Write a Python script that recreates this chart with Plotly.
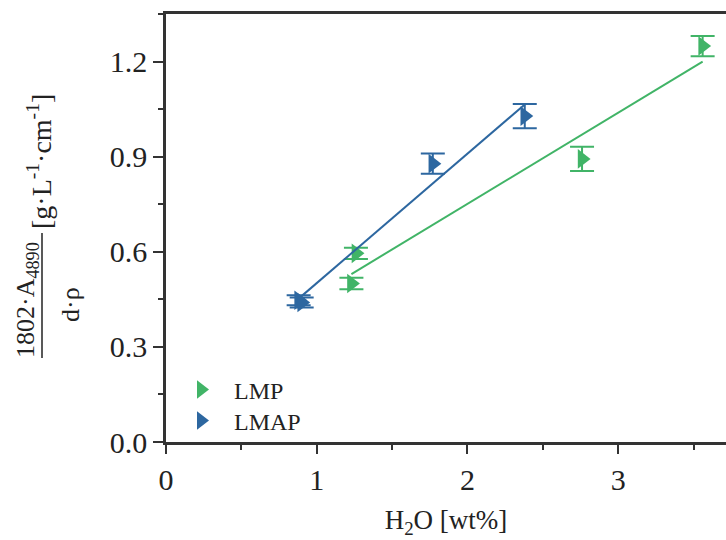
import numpy as np
import plotly.graph_objects as go

# Measured data: water content [wt%] vs. normalised absorbance
lmp_x = [1.23, 1.26, 2.76, 3.56]
lmp_y = [0.50, 0.595, 0.893, 1.249]
lmp_err = [0.018, 0.018, 0.038, 0.032]

lmap_x = [0.88, 0.90, 1.77, 2.38]
lmap_y = [0.447, 0.440, 0.878, 1.028]
lmap_err = [0.016, 0.016, 0.032, 0.038]

x_ticks = [0, 1, 2, 3]
y_ticks = [0.0, 0.3, 0.6, 0.9, 1.2]

GREEN = "#41b467"
BLUE = "#2d67a0"
AXIS = "#333333"
TEXT = "#222222"
FONT = "Liberation Serif"

W, H = 726, 540
ML, MR, MT, MB = 166, 0, 14, 98


def px_to_paper(px, py):
    return ((px - ML) / (W - ML - MR), (H - MB - py) / (H - MT - MB))


fig = go.Figure()

series = [
    ("LMP", lmp_x, lmp_y, lmp_err, GREEN, "legend"),
    ("LMAP", lmap_x, lmap_y, lmap_err, BLUE, "legend2"),
]
for name, xs, ys, err, color, leg in series:
    # linear least-squares fit over the measured range
    k, b = np.polyfit(xs, ys, 1)
    fx = np.array([min(xs), max(xs)])
    fig.add_trace(go.Scatter(
        x=fx, y=k * fx + b, mode="lines",
        line=dict(color=color, width=2), showlegend=False, hoverinfo="skip",
    ))
    fig.add_trace(go.Scatter(
        x=xs, y=ys, mode="markers", name=name, legend=leg,
        marker=dict(symbol="triangle-right", size=17, color=color),
        error_y=dict(type="data", array=err, visible=True,
                     color=color, thickness=2, width=12),
    ))

leg_common = dict(xanchor="left", yanchor="middle", itemwidth=56,
                  bgcolor="rgba(0,0,0,0)",
                  font=dict(size=24, family=FONT, color=TEXT))
leg_x = px_to_paper(168, 0)[0]

fig.update_layout(
    width=W, height=H,
    margin=dict(l=ML, r=MR, t=MT, b=MB),
    plot_bgcolor="white", paper_bgcolor="white",
    font=dict(family=FONT, size=28, color=TEXT),
    showlegend=True,
    legend=dict(x=leg_x, y=px_to_paper(0, 390)[1], **leg_common),
    legend2=dict(x=leg_x, y=px_to_paper(0, 421)[1], **leg_common),
)

fig.update_xaxes(
    range=[0, 3.715], tickvals=x_ticks, ticktext=[str(v) for v in x_ticks],
    showgrid=False, zeroline=False,
    showline=True, linecolor=AXIS, linewidth=2.5, mirror=True,
    ticks="outside", ticklen=9, tickwidth=2, tickcolor=AXIS,
    minor=dict(dtick=0.5, ticks="outside", ticklen=5, tickwidth=2, tickcolor=AXIS),
    tickfont=dict(size=30, family=FONT, color=TEXT),
    title=dict(text="H<sub>2</sub>O [wt%]", font=dict(size=27, family=FONT, color=TEXT),
               standoff=16),
)
fig.update_yaxes(
    range=[0, 1.35], tickvals=y_ticks, ticktext=[f"{v:.1f}" for v in y_ticks],
    showgrid=False, zeroline=False,
    showline=True, linecolor=AXIS, linewidth=2.5,
    ticks="outside", ticklen=10, tickwidth=2, tickcolor=AXIS,
    minor=dict(dtick=0.15, ticks="outside", ticklen=5, tickwidth=2, tickcolor=AXIS),
    tickfont=dict(size=30, family=FONT, color=TEXT),
)

# Y-axis label written as a fraction with units
num_x, num_y = px_to_paper(27, 300)
den_x, den_y = px_to_paper(70, 305)
unit_x, unit_y = px_to_paper(39, 162)
bar_x0, bar_y0 = px_to_paper(42, 358)
_, bar_y1 = px_to_paper(42, 233)

label_font = dict(size=26, family=FONT, color=TEXT)
fig.add_annotation(text="1802·A<sub>4890</sub>", x=num_x, y=num_y, xref="paper", yref="paper",
                   textangle=-90, showarrow=False, xanchor="center", yanchor="middle",
                   font=label_font)
fig.add_annotation(text="d·ρ", x=den_x, y=den_y, xref="paper", yref="paper",
                   textangle=-90, showarrow=False, xanchor="center", yanchor="middle",
                   font=label_font)
fig.add_annotation(text="[g·L<sup>-1</sup>·cm<sup>-1</sup>]", x=unit_x, y=unit_y,
                   xref="paper", yref="paper", textangle=-90, showarrow=False,
                   xanchor="center", yanchor="middle",
                   font=dict(size=28, family=FONT, color=TEXT))
fig.add_shape(type="line", xref="paper", yref="paper",
              x0=bar_x0, x1=bar_x0, y0=bar_y0, y1=bar_y1,
              line=dict(color=TEXT, width=1.5))

fig.write_html("out.html")
